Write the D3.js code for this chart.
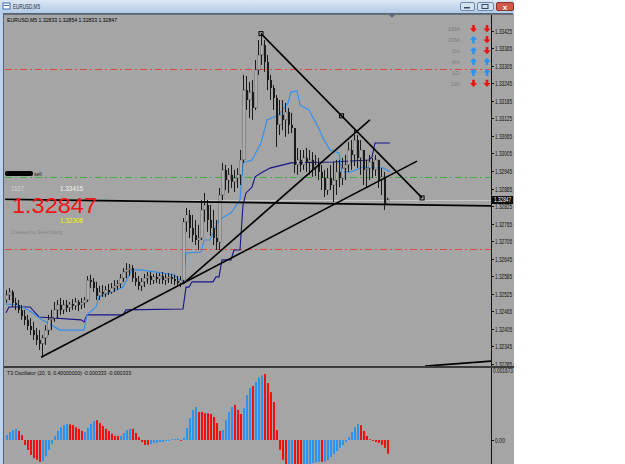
<!DOCTYPE html>
<html>
<head>
<meta charset="utf-8">
<script src="https://cdn.jsdelivr.net/npm/d3@7"></script>
<style>
  html, body { margin: 0; padding: 0; background: #fff; }
  svg { display: block; font-family: "Liberation Sans", Arial, sans-serif; }
</style>
</head>
<body>
<svg id="chart" width="625" height="464"></svg>
<script>
// ---- data ----
const symbol = 'EURUSD,M5';
const headerQuote = [1.32833, 1.32854, 1.32833, 1.32847];
const firstOpen = 1.32504;

const highs = [
  1.32538, 1.32545, 1.32538, 1.32511, 1.32504, 1.32487, 1.32470, 1.32453, 1.32442, 1.32429,
  1.32408, 1.32401, 1.32384, 1.32418, 1.32453, 1.32470, 1.32497, 1.32504, 1.32511, 1.32504,
  1.32504, 1.32497, 1.32507, 1.32511, 1.32504, 1.32511, 1.32514, 1.32586, 1.32590, 1.32579,
  1.32566, 1.32552, 1.32555, 1.32552, 1.32559, 1.32562, 1.32572, 1.32572, 1.32593, 1.32613,
  1.32630, 1.32627, 1.32624, 1.32600, 1.32586, 1.32579, 1.32593, 1.32600, 1.32600, 1.32593,
  1.32596, 1.32596, 1.32600, 1.32593, 1.32596, 1.32593, 1.32590, 1.32586, 1.32586, 1.32784,
  1.32819, 1.32812, 1.32795, 1.32778, 1.32761, 1.32846, 1.32870, 1.32846, 1.32829, 1.32812,
  1.32778, 1.32887, 1.32973, 1.32966, 1.32955, 1.32966, 1.32949, 1.32955, 1.33017, 1.33274,
  1.33270, 1.33250, 1.33256, 1.33325, 1.33393, 1.33415, 1.33393, 1.33342, 1.33274, 1.33239,
  1.33205, 1.33188, 1.33188, 1.33178, 1.33161, 1.33144, 1.33085, 1.33024, 1.33017, 1.33017,
  1.33024, 1.33017, 1.33010, 1.33000, 1.32990, 1.32966, 1.32949, 1.32955, 1.32966, 1.32976,
  1.32983, 1.32983, 1.32990, 1.33000, 1.33044, 1.33051, 1.33085, 1.33068, 1.33051, 1.33017,
  1.32983, 1.33000, 1.32990, 1.33000, 1.32983, 1.32955, 1.32942, 1.32854
];
const lows = [
  1.32494, 1.32504, 1.32480, 1.32470, 1.32459, 1.32436, 1.32418, 1.32401, 1.32384, 1.32367,
  1.32350, 1.32333, 1.32308, 1.32350, 1.32384, 1.32401, 1.32429, 1.32442, 1.32453, 1.32456,
  1.32463, 1.32463, 1.32470, 1.32470, 1.32466, 1.32473, 1.32477, 1.32497, 1.32545, 1.32531,
  1.32504, 1.32504, 1.32514, 1.32514, 1.32521, 1.32525, 1.32531, 1.32538, 1.32545, 1.32566,
  1.32579, 1.32586, 1.32566, 1.32552, 1.32538, 1.32535, 1.32548, 1.32559, 1.32555, 1.32559,
  1.32562, 1.32559, 1.32559, 1.32555, 1.32562, 1.32559, 1.32555, 1.32552, 1.32548, 1.32562,
  1.32737, 1.32716, 1.32702, 1.32692, 1.32675, 1.32709, 1.32771, 1.32737, 1.32723, 1.32692,
  1.32675, 1.32675, 1.32846, 1.32880, 1.32870, 1.32887, 1.32873, 1.32887, 1.32897, 1.32973,
  1.33154, 1.33126, 1.33120, 1.33154, 1.33274, 1.33308, 1.33284, 1.33222, 1.33188, 1.33154,
  1.33027, 1.33068, 1.33085, 1.33062, 1.33072, 1.33075, 1.32938, 1.32932, 1.32942, 1.32949,
  1.32942, 1.32932, 1.32925, 1.32928, 1.32914, 1.32880, 1.32856, 1.32863, 1.32880, 1.32839,
  1.32863, 1.32890, 1.32897, 1.32914, 1.32942, 1.32949, 1.32962, 1.32955, 1.32932, 1.32897,
  1.32890, 1.32914, 1.32921, 1.32928, 1.32887, 1.32863, 1.32812, 1.32833
];
const closes = [
  1.32521, 1.32531, 1.32494, 1.32487, 1.32470, 1.32449, 1.32436, 1.32415, 1.32401, 1.32384,
  1.32367, 1.32354, 1.32374, 1.32401, 1.32436, 1.32442, 1.32470, 1.32487, 1.32470, 1.32487,
  1.32477, 1.32490, 1.32484, 1.32497, 1.32487, 1.32494, 1.32504, 1.32572, 1.32566, 1.32545,
  1.32518, 1.32531, 1.32525, 1.32538, 1.32531, 1.32545, 1.32552, 1.32559, 1.32579, 1.32600,
  1.32607, 1.32613, 1.32579, 1.32566, 1.32552, 1.32566, 1.32579, 1.32586, 1.32572, 1.32583,
  1.32576, 1.32586, 1.32572, 1.32579, 1.32583, 1.32576, 1.32569, 1.32562, 1.32572, 1.32771,
  1.32795, 1.32750, 1.32726, 1.32709, 1.32716, 1.32812, 1.32829, 1.32778, 1.32750, 1.32716,
  1.32702, 1.32863, 1.32949, 1.32914, 1.32932, 1.32908, 1.32921, 1.32932, 1.32983, 1.33222,
  1.33188, 1.33215, 1.33161, 1.33291, 1.33342, 1.33376, 1.33318, 1.33256, 1.33229, 1.33195,
  1.33103, 1.33137, 1.33120, 1.33147, 1.33103, 1.33092, 1.32966, 1.32983, 1.32966, 1.32990,
  1.32976, 1.32983, 1.32955, 1.32966, 1.32942, 1.32921, 1.32880, 1.32921, 1.32897, 1.32914,
  1.32942, 1.32921, 1.32955, 1.32966, 1.33017, 1.33000, 1.33051, 1.32990, 1.33017, 1.32949,
  1.32955, 1.32976, 1.32949, 1.32983, 1.32914, 1.32925, 1.32833, 1.32847
];

// moving averages as [bar index, price] vertices
const blueMa = [
  [0, 1.32490], [4, 1.32487], [8, 1.32466], [12, 1.32436], [18, 1.32401], [26, 1.32401],
  [27, 1.32453], [30, 1.32480], [31, 1.32514], [39, 1.32548], [42, 1.32607], [45, 1.32607],
  [56, 1.32590], [59, 1.32562], [60, 1.32665], [65, 1.32668], [66, 1.32709], [68, 1.32709],
  [71, 1.32778], [75, 1.32802], [78, 1.32846], [79, 1.32973], [82, 1.32983], [85, 1.33041],
  [87, 1.33120], [91, 1.33137], [94, 1.33178], [95, 1.33215], [97, 1.33219], [98, 1.33171],
  [101, 1.33154], [104, 1.33096], [106, 1.33051], [108, 1.33017], [111, 1.33007], [112, 1.32942],
  [115, 1.32942], [119, 1.32959], [126, 1.32955], [128, 1.32942]
];
const navyMa = [
  [0, 1.32460], [1, 1.32480], [8, 1.32480], [11, 1.32446], [25, 1.32436], [26, 1.32429],
  [27, 1.32453], [39, 1.32453], [40, 1.32470], [59, 1.32473], [60, 1.32548], [61, 1.32548],
  [62, 1.32566], [69, 1.32566], [70, 1.32583], [71, 1.32583], [72, 1.32641], [75, 1.32641],
  [76, 1.32675], [78, 1.32675], [79, 1.32829], [80, 1.32870], [82, 1.32890], [83, 1.32925],
  [85, 1.32938], [88, 1.32955], [95, 1.32973], [109, 1.32976], [121, 1.32983], [122, 1.32993],
  [123, 1.33041], [128, 1.33041]
];

// hand-drawn trend lines: [bar index, price] end points
const trendFromTop = [[85, 1.33415], [138.7, 1.32853]];
const trendFromLow = [[11.7, 1.32308], [137, 1.32979]];
const trendSteep = [[59, 1.32559], [121.3, 1.33120]];
const trendFlat = [[-0.3, 1.32848], [161.7, 1.32826]];
const trendBottom = [[139.7, 1.32278], [161.7, 1.32295]];

const redLevels = [1.33293, 1.32678];
const greenLevels = [1.32925];

const priceTicks = [
  1.33425, 1.33365, 1.33305, 1.33245, 1.33185, 1.33125, 1.33065, 1.33005, 1.32945, 1.32885,
  1.32825, 1.32765, 1.32705, 1.32645, 1.32585, 1.32525, 1.32465, 1.32405, 1.32345, 1.32285
];
const lastPrice = 1.32847;
const dayHigh = 1.33415;
const dayLow = 1.32308;
const rangeLabel = '1107';

const oscValues = [
  0.00012, 0.00019, 0.00024, 0.00027, 0.00022, 0.00012, -0.00012, -0.00024, -0.00036, -0.00044,
  -0.00048, -0.00053, -0.00051, -0.00039, -0.00024, -0.00010, 0.00010, 0.00022, 0.00031, 0.00036,
  0.00039, 0.00038, 0.00036, 0.00031, 0.00027, 0.00022, 0.00019, 0.00029, 0.00039, 0.00046,
  0.00048, 0.00041, 0.00034, 0.00027, 0.00022, 0.00015, 0.00010, 0.00010, 0.00010, 0.00017,
  0.00024, 0.00027, 0.00027, 0.00017, 0.00007, -0.00005, -0.00012, -0.00012, -0.00010, -0.00007,
  -0.00007, -0.00005, -0.00005, -0.00002, -0.00002, 0.00002, 0.00002, 0.00003, -0.00002, 0.00005,
  0.00029, 0.00053, 0.00073, 0.00080, 0.00068, 0.00068, 0.00065, 0.00065, 0.00063, 0.00056,
  0.00041, 0.00022, 0.00024, 0.00048, 0.00068, 0.00080, 0.00085, 0.00073, 0.00063, 0.00077,
  0.00109, 0.00126, 0.00131, 0.00140, 0.00152, 0.00157, 0.00160, 0.00138, 0.00116, 0.00092,
  0.00024, -0.00024, -0.00048, -0.00058, -0.00061, -0.00062, -0.00063, -0.00062, -0.00060, -0.00059,
  -0.00058, -0.00058, -0.00056, -0.00054, -0.00053, -0.00053, -0.00052, -0.00048, -0.00041, -0.00034,
  -0.00027, -0.00019, -0.00012, -0.00005, 0.00007, 0.00019, 0.00031, 0.00039, 0.00036, 0.00022,
  0.00010, 0.00002, -0.00002, -0.00005, -0.00007, -0.00012, -0.00019, -0.000333
];
// 1 = rising (blue), 0 = falling (red)
const oscUp = [
  1, 1, 1, 1, 0, 0, 0, 0, 0, 0, 0, 0, 1, 1, 1, 1, 1, 1, 1, 1,
  1, 0, 0, 0, 0, 0, 1, 1, 1, 1, 0, 0, 0, 0, 0, 0, 0, 0, 1, 1,
  1, 1, 0, 0, 0, 0, 0, 0, 1, 1, 1, 1, 1, 1, 1, 1, 1, 1, 0, 1,
  1, 1, 1, 1, 0, 0, 0, 0, 0, 0, 0, 0, 1, 1, 1, 1, 0, 0, 0, 1,
  1, 1, 0, 1, 1, 1, 0, 0, 0, 0, 0, 0, 0, 0, 1, 1, 0, 0, 0, 1,
  1, 1, 1, 1, 1, 0, 1, 1, 1, 1, 1, 1, 1, 1, 1, 1, 1, 1, 0, 0,
  0, 0, 0, 0, 0, 0, 0, 0
];
const oscTitle = 'T3 Oscillator (20, 9, 0.40000000) -0.000333 -0.000333';
const oscMax = 0.001673;

const tfLabels = ['15M:', '30M:', '1H:', '4H:', '1D:', '1W:'];
const tfSignals = [[0, 0], [1, 0], [1, 0], [1, 1], [1, 1], [0, 0]];

// ---- drawing ----
const svg = d3.select('#chart');
const bg = '#a5a5a5';
const fmt = d3.format('.5f');

const x = d3.scaleLinear().domain([0, 161]).range([6, 489]);
const y = d3.scaleLinear().domain([1.32285, 1.33425]).range([364, 30.7]);
const oy = d3.scaleLinear().domain([0, oscMax]).range([440, 371]);

const defs = svg.append('defs');
const grad = defs.append('linearGradient').attr('id', 'tb').attr('x1', 0).attr('x2', 0).attr('y1', 0).attr('y2', 1);
grad.append('stop').attr('offset', 0).attr('stop-color', '#dce7f5');
grad.append('stop').attr('offset', 1).attr('stop-color', '#b3cae6');
defs.append('clipPath').attr('id', 'mainClip')
  .append('rect').attr('x', 5).attr('y', 15).attr('width', 486).attr('height', 351);
defs.append('clipPath').attr('id', 'oscClip')
  .append('rect').attr('x', 5).attr('y', 368).attr('width', 486).attr('height', 96);

// window frame
svg.append('rect').attr('x', 0).attr('y', 0).attr('width', 514).attr('height', 464).attr('fill', '#bcd0ea');
svg.append('rect').attr('x', 0).attr('y', 0).attr('width', 514).attr('height', 13).attr('fill', 'url(#tb)');
svg.append('rect').attr('x', 4).attr('y', 14).attr('width', 510).attr('height', 450).attr('fill', bg);
svg.append('line').attr('x1', 3.5).attr('x2', 3.5).attr('y1', 13).attr('y2', 464).attr('stroke', '#52657e');
svg.append('line').attr('x1', 3.5).attr('x2', 513).attr('y1', 13.5).attr('y2', 13.5).attr('stroke', '#52657e');
svg.append('line').attr('x1', 4).attr('x2', 513).attr('y1', 14.5).attr('y2', 14.5).attr('stroke', '#707070');

// title bar
const icon = svg.append('g');
icon.append('rect').attr('x', 3).attr('y', 3).attr('width', 7).attr('height', 6).attr('fill', '#fff').attr('stroke', '#3a6fb0');
icon.append('rect').attr('x', 4).attr('y', 5).attr('width', 5).attr('height', 1).attr('fill', '#3a6fb0');
svg.append('text').attr('x', 13).attr('y', 9).attr('font-size', 7.5).attr('fill', '#1e2a3a')
  .attr('textLength', 27).attr('lengthAdjust', 'spacingAndGlyphs').text(symbol);
const buttons = [{ x: 460, w: 14, kind: 'min' }, { x: 477, w: 16, kind: 'max' }, { x: 496, w: 17, kind: 'close' }];
buttons.forEach(b => {
  svg.append('rect').attr('x', b.x + 0.5).attr('y', 2.5).attr('width', b.w).attr('height', 8).attr('rx', 1.5)
    .attr('fill', b.kind === 'close' ? '#d2594a' : '#d4e1f1').attr('stroke', b.kind === 'close' ? '#8a3328' : '#6f88a8');
  if (b.kind === 'min') svg.append('rect').attr('x', b.x + 4).attr('y', 7).attr('width', 6).attr('height', 1.5).attr('fill', '#33475f');
  if (b.kind === 'max') svg.append('rect').attr('x', b.x + 5).attr('y', 4.5).attr('width', 6).attr('height', 4).attr('fill', 'none').attr('stroke', '#33475f');
  if (b.kind === 'close') svg.append('text').attr('x', b.x + b.w / 2 + 0.5).attr('y', 9.5).attr('text-anchor', 'middle')
    .attr('font-size', 8).attr('font-weight', 'bold').attr('fill', '#fff').text('x');
});

// chart shift marker
svg.append('path').attr('d', 'M389,15 L395,15 L392,18 Z').attr('fill', '#5d6f8a');

// ---- main panel ----
const main = svg.append('g').attr('clip-path', 'url(#mainClip)');

const levelLine = (p, color) => main.append('line')
  .attr('x1', 5).attr('x2', 491).attr('y1', Math.round(y(p)) + 0.5).attr('y2', Math.round(y(p)) + 0.5)
  .attr('stroke', color).attr('stroke-dasharray', '7,3,2,3');
redLevels.forEach(p => levelLine(p, '#e0483e'));
greenLevels.forEach(p => levelLine(p, '#3cae3c'));

// bid line
main.append('line').attr('x1', 5).attr('x2', 491).attr('y1', Math.round(y(lastPrice)) + 0.5).attr('y2', Math.round(y(lastPrice)) + 0.5)
  .attr('stroke', '#c6c6c6');

const maLine = d3.line().x(d => x(d[0])).y(d => y(d[1]));
main.append('path').attr('d', maLine(navyMa)).attr('fill', 'none').attr('stroke', '#16168a').attr('stroke-width', 1.1);
main.append('path').attr('d', maLine(blueMa)).attr('fill', 'none').attr('stroke', '#2e8ff0').attr('stroke-width', 1.1);

// candles
const bars = closes.map((c, i) => ({ i, o: i === 0 ? firstOpen : closes[i - 1], h: highs[i], l: lows[i], c }));
const cg = main.append('g');
cg.selectAll('line').data(bars).join('line')
  .attr('x1', d => Math.round(x(d.i)) + 0.5).attr('x2', d => Math.round(x(d.i)) + 0.5)
  .attr('y1', d => y(Math.max(d.h, d.o, d.c))).attr('y2', d => y(Math.min(d.l, d.o, d.c)))
  .attr('stroke', '#1a1a1a');
cg.selectAll('rect').data(bars).join('rect')
  .attr('x', d => Math.round(x(d.i)))
  .attr('width', 2)
  .attr('y', d => y(Math.max(d.o, d.c)))
  .attr('height', d => Math.max(1, y(Math.min(d.o, d.c)) - y(Math.max(d.o, d.c))))
  .attr('fill', d => d.c >= d.o ? '#d2d2d2' : '#1a1a1a')
  .attr('stroke', d => d.c >= d.o ? '#1a1a1a' : 'none').attr('stroke-width', 0.4);

// trend lines
const seg = (pts, w) => main.append('line')
  .attr('x1', x(pts[0][0])).attr('y1', y(pts[0][1])).attr('x2', x(pts[1][0])).attr('y2', y(pts[1][1]))
  .attr('stroke', '#000').attr('stroke-width', w);
seg(trendFromLow, 1.6);
seg(trendSteep, 1.6);
seg(trendFromTop, 1.6);
seg(trendFlat, 1.8);
seg(trendBottom, 1.8);
const midTop = [(trendFromTop[0][0] + trendFromTop[1][0]) / 2, (trendFromTop[0][1] + trendFromTop[1][1]) / 2];
[trendFromTop[0], midTop, trendFromTop[1]].forEach(p => main.append('rect')
  .attr('x', x(p[0]) - 2).attr('y', y(p[1]) - 2).attr('width', 4).attr('height', 4)
  .attr('fill', 'none').attr('stroke', '#000').attr('stroke-width', 1));

// header text
svg.append('text').attr('x', 7).attr('y', 21.5).attr('font-size', 6).attr('fill', '#000')
  .attr('textLength', 110).attr('lengthAdjust', 'spacingAndGlyphs')
  .text(symbol + '  ' + headerQuote.map(fmt).join(' '));

// timeframe signal panel
const rowY = d3.scalePoint().domain(tfLabels).range([28.7, 83.3]);
const arrow = (cx, cy, up) => {
  const s = up ? -1 : 1;
  return `M${cx - 3.6},${cy - s * 0.2} L${cx},${cy + s * 3.6} L${cx + 3.6},${cy - s * 0.2} ` +
    `L${cx + 1.3},${cy - s * 0.2} L${cx + 1.3},${cy - s * 3.6} L${cx - 1.3},${cy - s * 3.6} L${cx - 1.3},${cy - s * 0.2} Z`;
};
tfLabels.forEach((lab, k) => {
  const cy = rowY(lab);
  svg.append('text').attr('x', 461).attr('y', cy + 2.2).attr('text-anchor', 'end').attr('font-size', 6)
    .attr('fill', '#7e7e7e').text(lab);
  tfSignals[k].forEach((up, j) => {
    svg.append('path').attr('d', arrow(j === 0 ? 473.5 : 487, cy, up === 1))
      .attr('fill', up === 1 ? '#2a93f2' : '#f01010');
  });
});

// info texts on the left
svg.append('rect').attr('x', 5).attr('y', 171).attr('width', 28).attr('height', 5).attr('rx', 2).attr('fill', '#050505');
svg.append('text').attr('x', 34).attr('y', 176).attr('font-size', 5).attr('fill', '#111').text('sell');
svg.append('text').attr('x', 11).attr('y', 190.5).attr('font-size', 6.5).attr('fill', '#d6d6d6')
  .attr('textLength', 13).attr('lengthAdjust', 'spacingAndGlyphs').text(rangeLabel);
svg.append('text').attr('x', 60).attr('y', 190.5).attr('font-size', 6.5).attr('fill', '#f4f4f4')
  .attr('textLength', 23).attr('lengthAdjust', 'spacingAndGlyphs').text(fmt(dayHigh));
svg.append('text').attr('x', 12).attr('y', 212.5).attr('font-size', 22.5).attr('fill', '#f01414')
  .attr('textLength', 85).attr('lengthAdjust', 'spacingAndGlyphs').text(fmt(lastPrice));
svg.append('text').attr('x', 60).attr('y', 222.5).attr('font-size', 6.5).attr('fill', '#f4f400')
  .attr('textLength', 23).attr('lengthAdjust', 'spacingAndGlyphs').text(fmt(dayLow));
svg.append('text').attr('x', 11).attr('y', 234).attr('font-size', 5.5).attr('fill', '#868686')
  .attr('textLength', 51).attr('lengthAdjust', 'spacingAndGlyphs').text('Created by SeverJiang');

// price axis
svg.append('line').attr('x1', 491.5).attr('x2', 491.5).attr('y1', 15).attr('y2', 464).attr('stroke', '#111');
priceTicks.forEach(p => {
  const ty = Math.round(y(p)) + 0.5;
  svg.append('line').attr('x1', 491).attr('x2', 494).attr('y1', ty).attr('y2', ty).attr('stroke', '#111');
  svg.append('text').attr('x', 495).attr('y', ty + 2.3).attr('font-size', 6.5).attr('fill', '#111')
    .attr('textLength', 17).attr('lengthAdjust', 'spacingAndGlyphs').text(fmt(p));
});
svg.append('rect').attr('x', 492).attr('y', Math.round(y(lastPrice)) - 4).attr('width', 21).attr('height', 8).attr('fill', '#0a0a0a');
svg.append('text').attr('x', 494).attr('y', Math.round(y(lastPrice)) + 2.4).attr('font-size', 6.5).attr('fill', '#fff')
  .attr('textLength', 17).attr('lengthAdjust', 'spacingAndGlyphs').text(fmt(lastPrice));

// panel separator
svg.append('rect').attr('x', 4).attr('y', 366).attr('width', 510).attr('height', 2).attr('fill', '#3c3c3c');

// ---- oscillator panel ----
const osc = svg.append('g').attr('clip-path', 'url(#oscClip)');
osc.selectAll('rect').data(oscValues).join('rect')
  .attr('x', (d, i) => Math.round(x(i)))
  .attr('width', 2)
  .attr('y', d => Math.min(oy(d), oy(0)))
  .attr('height', d => Math.abs(oy(d) - oy(0)))
  .attr('fill', (d, i) => oscUp[i] ? '#2a93f2' : '#f01010');
svg.append('text').attr('x', 7).attr('y', 374.5).attr('font-size', 6).attr('fill', '#111')
  .attr('textLength', 124).attr('lengthAdjust', 'spacingAndGlyphs').text(oscTitle);
svg.append('text').attr('x', 493).attr('y', 373).attr('font-size', 6.5).attr('fill', '#111')
  .attr('textLength', 20).attr('lengthAdjust', 'spacingAndGlyphs').text(String(oscMax));
svg.append('line').attr('x1', 491).attr('x2', 494).attr('y1', oy(0) + 0.5).attr('y2', oy(0) + 0.5).attr('stroke', '#111');
svg.append('text').attr('x', 495).attr('y', oy(0) + 2.5).attr('font-size', 6.5).attr('fill', '#111')
  .attr('textLength', 10).attr('lengthAdjust', 'spacingAndGlyphs').text('0.00');
</script>
</body>
</html>
